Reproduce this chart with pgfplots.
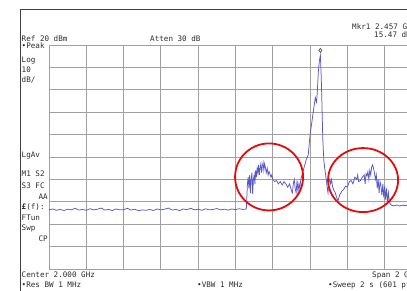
\documentclass[border=0pt]{standalone}
\usepackage{pgfplots}
\pgfplotsset{compat=1.18}
\usepackage{fontspec}
\setmainfont{DejaVu Sans}
\newfontfamily\scr{DejaVu Sans Mono}
\definecolor{trace}{RGB}{88,88,200}
\definecolor{gridc}{RGB}{160,160,160}
\definecolor{txt}{RGB}{45,45,45}
\definecolor{circ}{RGB}{230,10,10}
\pgfplotstableread{
f dbm
1.000 -53.6
1.020 -53.2
1.040 -53.8
1.060 -53.4
1.080 -53.9
1.100 -53.3
1.120 -53.6
1.140 -52.9
1.160 -53.7
1.180 -53.4
1.200 -53.8
1.220 -53.1
1.240 -53.6
1.260 -53.3
1.280 -52.8
1.300 -53.7
1.320 -53.4
1.340 -53.9
1.360 -53.2
1.380 -53.6
1.400 -53.5
1.420 -52.9
1.440 -53.7
1.460 -53.3
1.480 -54.0
1.500 -53.6
1.520 -53.8
1.540 -53.4
1.560 -53.9
1.580 -53.2
1.600 -53.6
1.620 -53.3
1.640 -52.8
1.660 -53.7
1.680 -53.4
1.700 -53.9
1.720 -53.2
1.740 -53.5
1.760 -52.9
1.780 -53.6
1.800 -53.3
1.820 -53.8
1.840 -53.1
1.860 -53.6
1.880 -53.4
1.900 -53.0
1.920 -53.6
1.940 -53.3
1.960 -53.7
1.980 -53.2
2.000 -53.5
2.020 -53.1
2.040 -53.4
2.058 -53.2
2.064 -42.0
2.068 -39.0
2.072 -44.0
2.076 -38.0
2.080 -46.0
2.084 -40.0
2.088 -37.0
2.092 -46.5
2.096 -40.0
2.100 -38.0
2.104 -42.0
2.108 -36.0
2.112 -39.0
2.116 -35.0
2.120 -37.0
2.124 -33.5
2.128 -38.0
2.132 -35.0
2.136 -33.0
2.140 -37.0
2.144 -34.0
2.148 -32.5
2.152 -36.0
2.156 -33.0
2.160 -34.5
2.165 -37.0
2.170 -35.0
2.175 -38.0
2.180 -36.5
2.185 -37.5
2.190 -39.0
2.195 -38.0
2.200 -40.0
2.210 -41.0
2.220 -40.5
2.230 -42.0
2.240 -41.0
2.250 -42.5
2.260 -41.0
2.270 -42.0
2.280 -43.5
2.290 -42.0
2.300 -45.0
2.305 -46.0
2.310 -42.0
2.315 -40.0
2.320 -44.0
2.325 -46.0
2.330 -40.5
2.335 -45.5
2.340 -42.0
2.345 -44.0
2.350 -40.0
2.360 -37.0
2.370 -34.0
2.380 -31.0
2.390 -29.0
2.400 -20.0
2.410 -14.0
2.420 -8.0
2.428 -3.5
2.434 -5.5
2.438 -2.0
2.444 8.0
2.450 13.0
2.455 15.47
2.460 5.0
2.464 -8.0
2.468 -22.0
2.474 -32.0
2.480 -36.0
2.488 -41.0
2.492 -44.0
2.496 -46.0
2.500 -41.0
2.505 -40.0
2.510 -42.0
2.515 -40.0
2.520 -43.0
2.528 -45.0
2.535 -46.0
2.542 -48.0
2.550 -49.5
2.558 -47.0
2.565 -46.0
2.572 -45.0
2.580 -44.5
2.590 -43.0
2.600 -43.5
2.610 -41.0
2.620 -40.5
2.630 -42.0
2.640 -39.0
2.650 -40.0
2.655 -38.0
2.660 -41.0
2.670 -40.5
2.680 -39.0
2.690 -38.0
2.695 -42.0
2.700 -37.5
2.705 -38.5
2.710 -36.5
2.715 -40.0
2.720 -36.0
2.725 -38.0
2.730 -34.5
2.735 -33.5
2.740 -35.0
2.745 -37.0
2.750 -40.0
2.755 -38.0
2.760 -44.0
2.765 -40.0
2.770 -46.0
2.775 -41.0
2.780 -43.0
2.785 -47.0
2.790 -42.0
2.795 -48.0
2.800 -43.0
2.805 -49.0
2.810 -44.0
2.815 -50.0
2.820 -46.0
2.825 -50.0
2.830 -51.0
2.836 -51.5
2.850 -51.8
2.865 -51.4
2.880 -51.9
2.895 -51.5
2.910 -51.7
2.925 -51.3
2.940 -51.8
2.955 -51.5
2.970 -51.9
2.985 -51.4
3.000 -51.6
}\tracedata
\begin{document}
\begin{tikzpicture}[x=1pt,y=1pt]
\useasboundingbox (0,0) rectangle (407,290);
\clip (0,0) rectangle (407,290);
\fill[white] (0,0) rectangle (407,290);
\draw[black!75, line width=1pt] (20.8,-10) -- (20.8,280) -- (430,280);
\begin{axis}[
  scale only axis, width=373pt, height=224pt,
  at={(49pt,21pt)}, anchor=south west,
  xmin=1, xmax=3, ymin=-80, ymax=20,
  xtick={1.2,1.4,1.6,1.8,2,2.2,2.4,2.6,2.8},
  ytick={-70,-60,-50,-40,-30,-20,-10,0,10},
  xticklabels={}, yticklabels={},
  major tick length=0pt,
  grid=major,
  major grid style={gridc, line width=0.9pt},
  axis line style={gridc, line width=0.9pt},
]
\addplot[trace, line width=0.75pt] table[x=f, y=dbm] {\tracedata};
\addplot[only marks, mark=diamond, mark size=2pt, black!70, mark options={line width=0.7pt}] coordinates {(2.455,17.6)};
\draw[circ, line width=1.8pt] (axis cs:2.180,-38.9) ellipse [x radius=34pt, y radius=33.5pt];
\draw[circ, line width=1.8pt] (axis cs:2.684,-40.3) ellipse [x radius=35pt, y radius=32pt];
\end{axis}
\begin{scope}[every node/.style={font=\scr\fontsize{7.6}{8}\selectfont, text=txt, inner sep=0pt}]
\node[anchor=base west] at (21.5,249) {Ref 20 dBm};
\node[anchor=base west] at (150,249) {Atten 30 dB};
\node[anchor=base west] at (352,260.5) {Mkr1 2.457 GHz};
\node[anchor=base west] at (374,252.5) {15.47 dBm};
\node[anchor=base west] at (21.5,241.5) {•Peak};
\node[anchor=base west] at (21.5,227.5) {Log};
\node[anchor=base west] at (21.5,217.5) {10};
\node[anchor=base west] at (21.5,207.5) {dB/};
\node[anchor=base west] at (21.5,132.5) {LgAv};
\node[anchor=base west] at (21.5,113.5) {M1 S2};
\node[anchor=base west] at (21.5,101.5) {S3 FC};
\node[anchor=base east] at (48,90.5) {AA};
\node[anchor=base west] at (21.5,80.5) {\textbf{£}(f):};
\node[anchor=base west] at (21.5,69.5) {FTun};
\node[anchor=base west] at (21.5,59.5) {Swp};
\node[anchor=base east] at (48,48.5) {CP};
\node[anchor=base west] at (21.5,12.5) {Center 2.000 GHz};
\node[anchor=base west] at (372,12.5) {Span 2 GHz};
\node[anchor=base west] at (21.5,2.5) {•Res BW 1 MHz};
\node[anchor=base west] at (197,2.5) {•VBW 1 MHz};
\node[anchor=base west] at (328,2.5) {•Sweep 2 s (601 pts)};
\end{scope}
\end{tikzpicture}
\end{document}
